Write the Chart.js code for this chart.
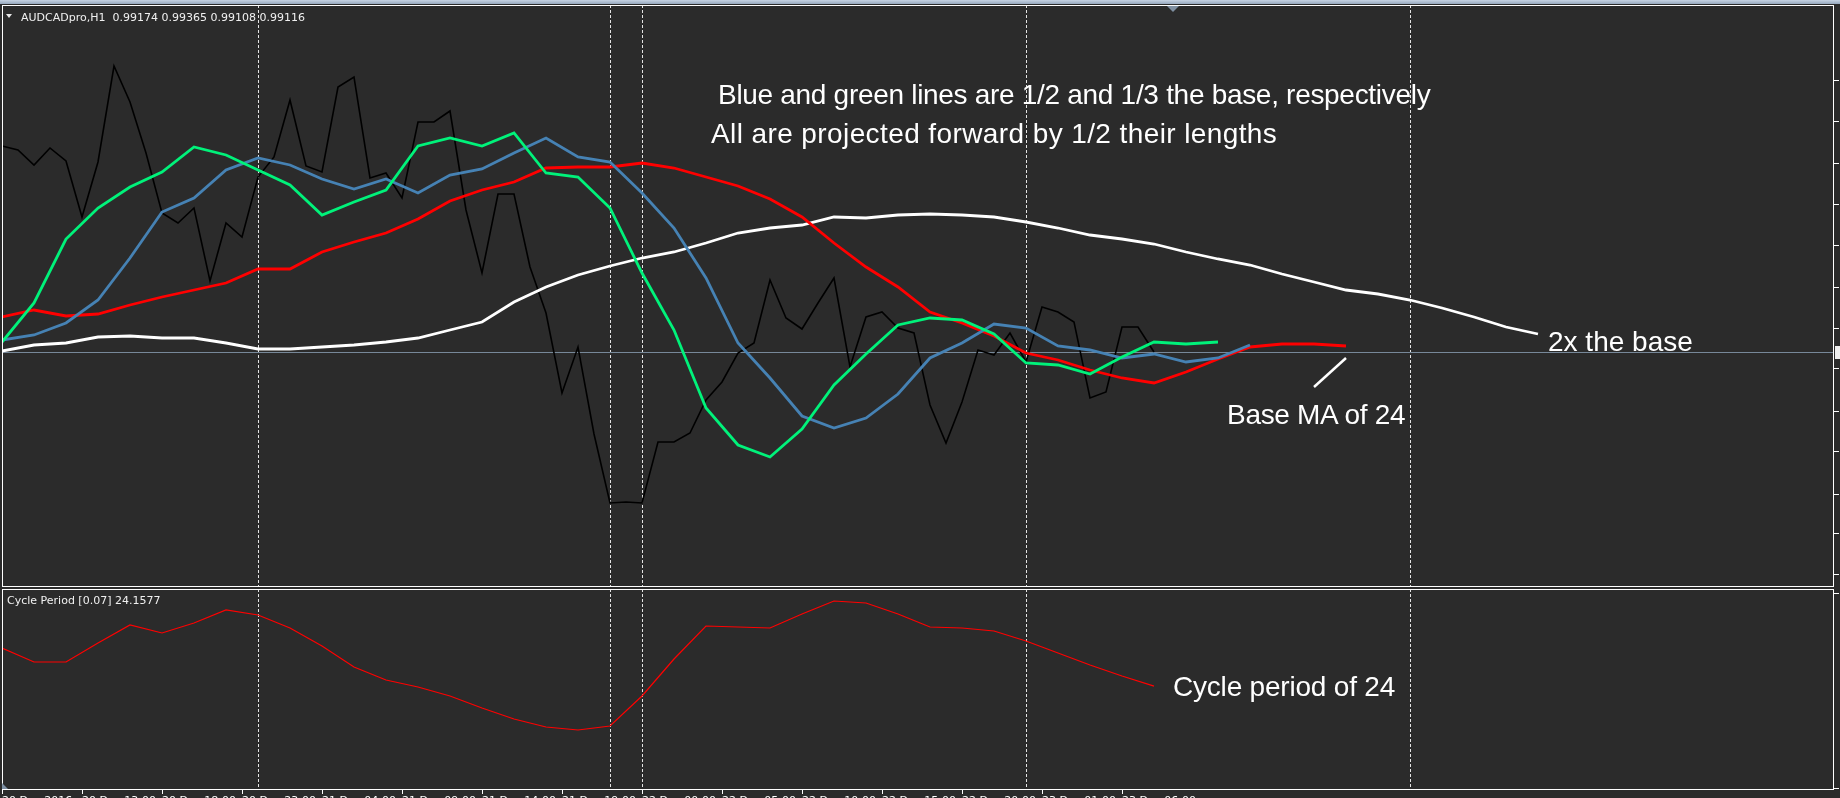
<!DOCTYPE html>
<html>
<head>
<meta charset="utf-8">
<script src="https://cdn.jsdelivr.net/npm/chart.js@4.4.1/dist/chart.umd.min.js"></script>
<style>
html, body { margin: 0; padding: 0; width: 1840px; height: 798px; overflow: hidden; background: #2b2b2b; }
#topbar { position: absolute; left: 0; top: 0; width: 1840px; height: 4px; background: linear-gradient(#c6d3e3, #97a9be); }
canvas { position: absolute; left: 0; }
#mainChart { top: 0; }
#subChart { top: 588px; }
.note { position: absolute; color: #fff; font-family: "Liberation Sans", Arial, sans-serif; font-size: 28px; line-height: 28px; white-space: nowrap; }
.small { position: absolute; color: #f0f0f0; font-family: "DejaVu Sans", sans-serif; font-size: 11px; line-height: 11px; white-space: pre; }
.tri { position: absolute; width: 0; height: 0; }
</style>
</head>
<body>
<div id="topbar"></div>
<canvas id="mainChart" width="1900" height="588"></canvas>
<canvas id="subChart" width="1900" height="232"></canvas>

<div class="tri" style="left:6px; top:14px; border-left:3px solid transparent; border-right:3px solid transparent; border-top:4px solid #e8e8e8;"></div>
<div class="small" style="left:21px; top:12px;">AUDCADpro,H1  0.99174 0.99365 0.99108 0.99116</div>
<div class="tri" style="left:1167px; top:6px; border-left:6px solid transparent; border-right:6px solid transparent; border-top:6px solid #7f8fa1;"></div>
<div class="small" style="left:7px; top:595px;">Cycle Period [0.07] 24.1577</div>
<div class="tri" style="left:2px; top:783px; border-left:6px solid #7d8fa3; border-top:6px solid transparent;"></div>

<div class="note" style="left:718px; top:81px; letter-spacing:-0.3px;">Blue and green lines are 1/2 and 1/3 the base, respectively</div>
<div class="note" style="left:711px; top:120px; letter-spacing:0.4px;">All are projected forward by 1/2 their lengths</div>
<div class="note" style="left:1548px; top:328px;">2x the base</div>
<div class="note" style="left:1227px; top:401px; letter-spacing:-0.3px;">Base MA of 24</div>
<div class="note" style="left:1173px; top:673px; letter-spacing:-0.2px;">Cycle period of 24</div>

<script>
// H1 bars, one value per bar index (close) or every 2nd bar (moving averages)
const timeTickBars = [0, 5, 10, 15, 20, 25, 30, 35, 40, 45, 50, 55, 60, 65, 70];
const timeLabels = ['20 Dec 2016', '20 Dec 13:00', '20 Dec 18:00', '20 Dec 23:00', '21 Dec 04:00',
    '21 Dec 09:00', '21 Dec 14:00', '21 Dec 19:00', '22 Dec 00:00', '22 Dec 05:00',
    '22 Dec 10:00', '22 Dec 15:00', '22 Dec 20:00', '23 Dec 01:00', '23 Dec 06:00'];
const priceTicks = [0.99388, 0.99347, 0.99305, 0.99264, 0.99223, 0.99180, 0.99140,
    0.99099, 0.99057, 0.99016, 0.98974, 0.98934, 0.98893];
const cycleTicks = [46.2, 0];
const separatorBars = [16, 38, 40, 64, 88];
const bidPrice = 0.99116;

const closePrices = [
    0.99322, 0.99318, 0.99303, 0.99320, 0.99307, 0.99251, 0.99306, 0.99402, 0.99366, 0.99315,
    0.99255, 0.99245, 0.99260, 0.99187, 0.99245, 0.99231, 0.99291, 0.99311, 0.99368, 0.99302,
    0.99296, 0.99381, 0.99391, 0.99290, 0.99295, 0.99270, 0.99346, 0.99346, 0.99357, 0.99258,
    0.99195, 0.99274, 0.99274, 0.99201, 0.99155, 0.99075, 0.99121, 0.99034, 0.98965, 0.98966,
    0.98965, 0.99026, 0.99026, 0.99035, 0.99068, 0.99086, 0.99115, 0.99125, 0.99188, 0.99150,
    0.99139, 0.99165, 0.99190, 0.99101, 0.99151, 0.99156, 0.99140, 0.99135, 0.99063, 0.99025,
    0.99066, 0.99118, 0.99113, 0.99135, 0.99106, 0.99161, 0.99156, 0.99146, 0.99070, 0.99076,
    0.99141, 0.99141, 0.99116
];
// base MA 24 (red), every 2 bars
const baseMA = [
    0.99151, 0.99158, 0.99152, 0.99154, 0.99163, 0.99171, 0.99178, 0.99185, 0.99199, 0.99199,
    0.99216, 0.99226, 0.99235, 0.99249, 0.99267, 0.99278, 0.99286, 0.99300, 0.99301, 0.99301,
    0.99305, 0.99300, 0.99291, 0.99282, 0.99269, 0.99251, 0.99225, 0.99201, 0.99181, 0.99156,
    0.99145, 0.99132, 0.99115, 0.99108, 0.99098, 0.99090, 0.99085, 0.99096, 0.99109, 0.99121,
    0.99124, 0.99124, 0.99122
];
// 1/2 base (blue)
const halfMA = [
    0.99128, 0.99133, 0.99145, 0.99168, 0.99210, 0.99256, 0.99270, 0.99298, 0.99310, 0.99303,
    0.99289, 0.99279, 0.99289, 0.99275, 0.99293, 0.99299, 0.99315, 0.99330, 0.99311, 0.99306,
    0.99275, 0.99240, 0.99190, 0.99125, 0.99090, 0.99052, 0.99040, 0.99050, 0.99074, 0.99110,
    0.99125, 0.99144, 0.99140, 0.99122, 0.99118, 0.99110, 0.99114, 0.99106, 0.99110, 0.99123
];
// 1/3 base (green)
const thirdMA = [
    0.99126, 0.99165, 0.99229, 0.99260, 0.99281, 0.99296, 0.99321, 0.99313, 0.99298, 0.99283,
    0.99253, 0.99266, 0.99278, 0.99322, 0.99330, 0.99322, 0.99335, 0.99295, 0.99291, 0.99260,
    0.99195, 0.99138, 0.99060, 0.99023, 0.99011, 0.99039, 0.99083, 0.99114, 0.99143, 0.99150,
    0.99148, 0.99134, 0.99105, 0.99103, 0.99094, 0.99111, 0.99126, 0.99124, 0.99126
];
// 2x base (white)
const doubleMA = [
    0.99117, 0.99123, 0.99125, 0.99131, 0.99132, 0.99130, 0.99130, 0.99125, 0.99119, 0.99119,
    0.99121, 0.99123, 0.99126, 0.99130, 0.99138, 0.99146, 0.99166, 0.99181, 0.99193, 0.99202,
    0.99210, 0.99216, 0.99225, 0.99235, 0.99240, 0.99243, 0.99251, 0.99250, 0.99253, 0.99254,
    0.99253, 0.99251, 0.99246, 0.99240, 0.99233, 0.99229, 0.99224, 0.99216, 0.99209, 0.99203,
    0.99194, 0.99186, 0.99178, 0.99174, 0.99168, 0.99160, 0.99151, 0.99141, 0.99134
];
const cyclePeriod = [
    33.18, 29.86, 29.86, 34.37, 38.63, 36.74, 39.11, 42.19, 41.00, 37.92,
    33.65, 28.68, 25.60, 23.94, 21.80, 18.96, 16.35, 14.46, 13.75, 14.69,
    21.80, 30.57, 38.39, 38.16, 37.92, 41.24, 44.32, 43.85, 41.24, 38.16,
    37.92, 37.21, 34.84, 32.00, 29.15, 26.54, 24.16
];
// pointer line next to "Base MA of 24"
const pointerBars = [82, 84];
const pointerPrices = [0.99081, 0.99110];

const pts = (vals, step) => vals.map((v, i) => ({ x: i * step, y: v }));

function line(data, color, width) {
    return { data, borderColor: color, borderWidth: width, pointRadius: 0, tension: 0, fill: false };
}

// keep label overflow from shrinking the plot area
function noPad(s) {
    s.paddingTop = 0; s.paddingBottom = 0; s.paddingLeft = 0; s.paddingRight = 0;
}

const chrome = {
    id: 'chrome',
    beforeDatasetsDraw(chart, args, opts) {
        const { ctx, chartArea: a, scales: { x, y } } = chart;
        ctx.save();
        ctx.strokeStyle = '#e4e4e4';
        ctx.lineWidth = 1;
        ctx.setLineDash([3, 2]);
        separatorBars.forEach(b => {
            const px = Math.round(x.getPixelForValue(b)) + 0.5;
            ctx.beginPath();
            ctx.moveTo(px, a.top);
            ctx.lineTo(px, a.bottom);
            ctx.stroke();
        });
        ctx.setLineDash([]);
        if (opts.bid) {
            const py = Math.round(y.getPixelForValue(bidPrice)) + 0.5;
            ctx.strokeStyle = '#778899';
            ctx.beginPath();
            ctx.moveTo(a.left, py);
            ctx.lineTo(a.right, py);
            ctx.stroke();
        }
        ctx.restore();
    },
    afterDraw(chart, args, opts) {
        const { ctx, chartArea: a, scales: { y } } = chart;
        ctx.save();
        ctx.strokeStyle = '#ffffff';
        ctx.lineWidth = 1;
        ctx.strokeRect(a.left + 0.5, a.top + 0.5, a.right - a.left - 1, a.bottom - a.top - 1);
        if (opts.bid) {
            const py = Math.round(y.getPixelForValue(bidPrice));
            ctx.fillStyle = '#eeeeee';
            ctx.fillRect(a.right + 1, py - 6, 70, 13);
            ctx.fillStyle = '#000';
            ctx.font = '11px "DejaVu Sans"';
            ctx.textBaseline = 'middle';
            ctx.fillText(bidPrice.toFixed(5), a.right + 9, py);
        }
        ctx.restore();
    }
};

const axisFont = { family: '"DejaVu Sans", sans-serif', size: 11 };

new Chart(document.getElementById('mainChart'), {
    type: 'line',
    data: {
        datasets: [
            line(pointerBars.map((b, i) => ({ x: b, y: pointerPrices[i] })), '#ffffff', 2.5),
            line(pts(thirdMA, 2), '#00f27a', 2.8),
            line(pts(halfMA, 2), '#4682b4', 2.8),
            line(pts(baseMA, 2), '#ff0000', 2.8),
            line(pts(doubleMA, 2), '#ffffff', 2.8),
            line(pts(closePrices, 1), '#000000', 1.6)
        ]
    },
    options: {
        responsive: false, animation: false, devicePixelRatio: 1,
        layout: { padding: { left: 2, top: 5, right: 0, bottom: 1 }, autoPadding: false },
        plugins: { legend: { display: false }, tooltip: { enabled: false }, chrome: { bid: true } },
        scales: {
            x: { type: 'linear', min: 0, max: 114.5, display: false },
            y: {
                position: 'right', min: 0.98881, max: 0.99463,
                afterFit: s => { s.width = 66; noPad(s); },
                afterBuildTicks: s => { s.ticks = priceTicks.map(v => ({ value: v })); },
                grid: { drawOnChartArea: false, color: '#ffffff', tickLength: 5 },
                border: { display: false },
                ticks: { color: '#ffffff', font: axisFont, padding: 3, callback: v => v.toFixed(5) }
            }
        }
    },
    plugins: [chrome]
});

new Chart(document.getElementById('subChart'), {
    type: 'line',
    data: { datasets: [line(pts(cyclePeriod, 2), '#ff0000', 1.2)] },
    options: {
        responsive: false, animation: false, devicePixelRatio: 1,
        layout: { padding: { left: 2, top: 1, right: 0, bottom: 0 }, autoPadding: false },
        plugins: { legend: { display: false }, tooltip: { enabled: false }, chrome: { bid: false } },
        scales: {
            x: {
                type: 'linear', min: 0, max: 114.5,
                afterFit: s => { s.height = 30; noPad(s); },
                afterBuildTicks: s => { s.ticks = timeTickBars.map(v => ({ value: v })); },
                grid: { drawOnChartArea: false, color: '#ffffff', tickLength: 4 },
                border: { display: false },
                ticks: { color: '#ffffff', font: axisFont, padding: 1, align: 'start', autoSkip: false,
                    maxRotation: 0, minRotation: 0, callback: (v, i) => timeLabels[i] }
            },
            y: {
                position: 'right', min: -0.474, max: 47.163,
                afterFit: s => { s.width = 66; noPad(s); },
                afterBuildTicks: s => { s.ticks = cycleTicks.map(v => ({ value: v })); },
                grid: { drawOnChartArea: false, color: '#ffffff', tickLength: 5 },
                border: { display: false },
                ticks: { color: '#ffffff', font: axisFont, padding: 3, callback: v => v.toFixed(4) }
            }
        }
    },
    plugins: [chrome]
});
</script>
</body>
</html>
